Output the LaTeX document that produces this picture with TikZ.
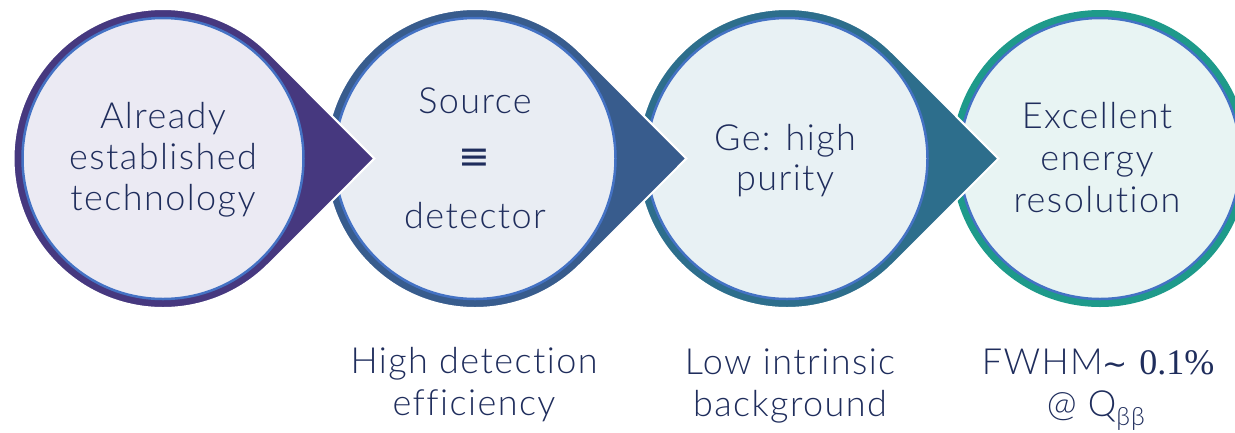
\documentclass[tikz,border=0pt]{standalone}
\usepackage{fontspec}
\setmainfont{Lato Light}[LetterSpace=4, Ligatures=NoCommon]
\newfontfamily\serifnum{Liberation Serif}
\newfontfamily\symf{DejaVu Sans}
\usetikzlibrary{calc}
\definecolor{ringA}{HTML}{46387F}
\definecolor{ringB}{HTML}{385C8D}
\definecolor{ringC}{HTML}{2D6E8C}
\definecolor{ringD}{HTML}{1E9A8A}
\definecolor{fillA}{HTML}{EBEAF3}
\definecolor{fillB}{HTML}{E9EDF3}
\definecolor{fillC}{HTML}{E8F1F4}
\definecolor{fillD}{HTML}{E8F4F3}
\definecolor{inline}{HTML}{4472C4}
\definecolor{txtc}{HTML}{1F2D5C}
\begin{document}
\begin{tikzpicture}[x=1pt,y=-1pt,
  txt/.style={text=txtc, inner sep=0pt, anchor=base, font=\fontsize{36}{40}\selectfont},
  drop/.style={draw=white, line width=2pt},
  disc/.style={draw=inline, line width=2.5pt}]
\useasboundingbox (0,0) rectangle (1235,432);
\clip (0,0) rectangle (1235,432);
\coordinate (c1) at (163,158.5);
\coordinate (c2) at (475,158.5);
\coordinate (c3) at (787,158.5);
\coordinate (c4) at (1100,158.5);
% circle 4
\fill[ringD] (c4) circle[radius=148.5];
\draw[disc, fill=fillD] (c4) circle[radius=140.5];
% circle 3
\fill[ringC, drop] ($(c3)+(211.4,0)$) -- ($(c3)+(-45:149.5)$) arc[start angle=-45, end angle=-315, radius=149.5] -- cycle;
\draw[disc, fill=fillC] (c3) circle[radius=140.5];
% circle 2
\fill[ringB, drop] ($(c2)+(211.4,0)$) -- ($(c2)+(-45:149.5)$) arc[start angle=-45, end angle=-315, radius=149.5] -- cycle;
\draw[disc, fill=fillB] (c2) circle[radius=140.5];
% circle 1
\fill[ringA, drop] ($(c1)+(211.4,0)$) -- ($(c1)+(-45:149.5)$) arc[start angle=-45, end angle=-315, radius=149.5] -- cycle;
\draw[disc, fill=fillA] (c1) circle[radius=140.5];
% texts
\node[txt] (a1) at (163,128) {Already};
\node[txt] (a2) at (163,169) {established};
\node[txt] (a3) at (163,210) {technology};
\node[txt] (b1) at (475,113) {Source};
\node[txt, anchor=center, font=\symf\fontsize{38}{40}\selectfont] (b2) at (474,159) {≡};
\node[txt] (b3) at (475,228) {detector};
\node[txt] (cc1) at (785,150) {Ge: high};
\node[txt] (cc2) at (785,190) {purity};
\node[txt] (d1) at (1097,128) {Excellent};
\node[txt] (d2) at (1097,170) {energy};
\node[txt] (d3) at (1097,212) {resolution};
\node[txt] (e1) at (474,373) {High detection};
\node[txt] (e2) at (474,415) {efficiency};
\node[txt] (f1) at (790,374) {Low intrinsic};
\node[txt] (f2) at (790,416) {background};
\node[txt] (g1) at (1098,374) {FWHM{\symf\fontsize{30}{36}\selectfont\char"223C}\ {\serifnum 0.1\%}};
\node[txt] (g2) at (1096,416) {@ Q\textsubscript{ββ}};
\end{tikzpicture}
\end{document}
